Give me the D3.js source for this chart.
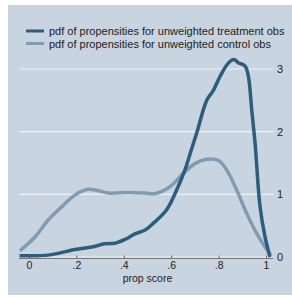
<!DOCTYPE html>
<html>
<head>
<meta charset="utf-8">
<script src="https://cdn.jsdelivr.net/npm/d3@7"></script>
<style>
  body { margin: 0; background: #fff; }
  svg { display: block; font-family: "Liberation Sans", Arial, sans-serif; }
</style>
</head>
<body>
<svg></svg>
<script>
const w = 292
const h = 297

// propensity score grid and density estimates
const treatX = [-0.04, 0.03, 0.08, 0.124, 0.194, 0.265, 0.32, 0.363, 0.405, 0.447, 0.49, 0.525, 0.58, 0.623, 0.658, 0.68, 0.707, 0.75, 0.778, 0.806, 0.84, 0.865, 0.883, 0.911, 0.925, 0.94, 0.954, 0.975, 0.996, 1.017]
const treatY = [0.02, 0.02, 0.03, 0.06, 0.12, 0.16, 0.21, 0.22, 0.28, 0.37, 0.43, 0.54, 0.75, 1.07, 1.39, 1.65, 1.97, 2.5, 2.66, 2.88, 3.09, 3.15, 3.1, 3.05, 2.9, 2.34, 1.81, 0.8, 0.32, 0.0]

const ctrlX = [-0.038, 0.025, 0.081, 0.138, 0.194, 0.25, 0.29, 0.335, 0.42, 0.49, 0.53, 0.595, 0.65, 0.7, 0.75, 0.8, 0.834, 0.876, 0.918, 0.96, 1.01, 1.02]
const ctrlY = [0.1, 0.32, 0.59, 0.8, 0.99, 1.08, 1.06, 1.02, 1.03, 1.02, 1.01, 1.12, 1.33, 1.49, 1.56, 1.54, 1.39, 1.07, 0.7, 0.38, 0.08, 0.03]

const xTicks = [0, 0.2, 0.4, 0.6, 0.8, 1]
const xTickLabels = ['0', '.2', '.4', '.6', '.8', '1']
const yTicks = [0, 1, 2, 3]

const legendLabels = [
  'pdf of propensities for unweighted treatment obs',
  'pdf of propensities for unweighted control obs'
]
const colors = ['#2d5d7c', '#7f9cb3']

const svg = d3.select('svg').attr('width', w).attr('height', h)

svg.append('rect')
  .attr('x', 8).attr('y', 5)
  .attr('width', w - 8).attr('height', 290)
  .attr('fill', '#c8d4df')

const xScale = d3.scaleLinear().domain([0, 1]).range([29, 266])
const yScale = d3.scaleLinear().domain([0, 3]).range([257, 69])
const xLo = xScale(-0.042)
const xHi = xScale(1.03)

// grid lines
svg.append('g')
  .selectAll('line')
  .data(yTicks)
  .join('line')
  .attr('x1', xLo).attr('x2', xHi)
  .attr('y1', d => yScale(d)).attr('y2', d => yScale(d))
  .attr('stroke', '#eef2f5')
  .attr('stroke-width', 1.2)

// right axis labels
const yAxis = d3.axisRight(yScale).tickValues(yTicks).tickFormat(d3.format('d')).tickSize(0).tickPadding(0)
svg.append('g')
  .attr('transform', `translate(${xHi + 4}, 0)`)
  .call(yAxis)
  .call(g => g.select('.domain').remove())
  .call(g => g.selectAll('text').attr('font-size', 11).attr('fill', '#222'))

// bottom axis
const xAxis = d3.axisBottom(xScale).tickValues(xTicks).tickFormat((d, i) => xTickLabels[i]).tickSize(-3).tickPadding(3)
svg.append('g')
  .attr('transform', `translate(0, ${yScale(0) + 1.5})`)
  .call(xAxis)
  .call(g => g.select('.domain').attr('d', `M${xLo},0H${xHi}`).attr('stroke', '#777'))
  .call(g => g.selectAll('.tick line').attr('stroke', '#666'))
  .call(g => g.selectAll('text').attr('font-size', 10.5).attr('fill', '#222'))

svg.append('text')
  .attr('x', xScale(0.5)).attr('y', 282)
  .attr('text-anchor', 'middle')
  .attr('font-size', 10.5)
  .attr('fill', '#222')
  .text('prop score')

const line = d3.line()
  .x(d => xScale(d[0]))
  .y(d => yScale(d[1]))
  .curve(d3.curveCatmullRom)

const series = [d3.zip(ctrlX, ctrlY), d3.zip(treatX, treatY)]

svg.append('path')
  .attr('d', line(series[0]))
  .attr('fill', 'none')
  .attr('stroke', colors[1])
  .attr('stroke-width', 3.5)
  .attr('stroke-linejoin', 'round')

svg.append('path')
  .attr('d', line(series[1]))
  .attr('fill', 'none')
  .attr('stroke', colors[0])
  .attr('stroke-width', 3.5)
  .attr('stroke-linejoin', 'round')

// legend
const legend = svg.append('g')
legendLabels.forEach((label, i) => {
  const y = 31 + i * 12.5
  legend.append('line')
    .attr('x1', 26).attr('x2', 44)
    .attr('y1', y).attr('y2', y)
    .attr('stroke', colors[i])
    .attr('stroke-width', 3)
  legend.append('text')
    .attr('x', 49).attr('y', y + 4)
    .attr('font-size', 11)
    .attr('fill', '#222')
    .text(label)
})
</script>
</body>
</html>
